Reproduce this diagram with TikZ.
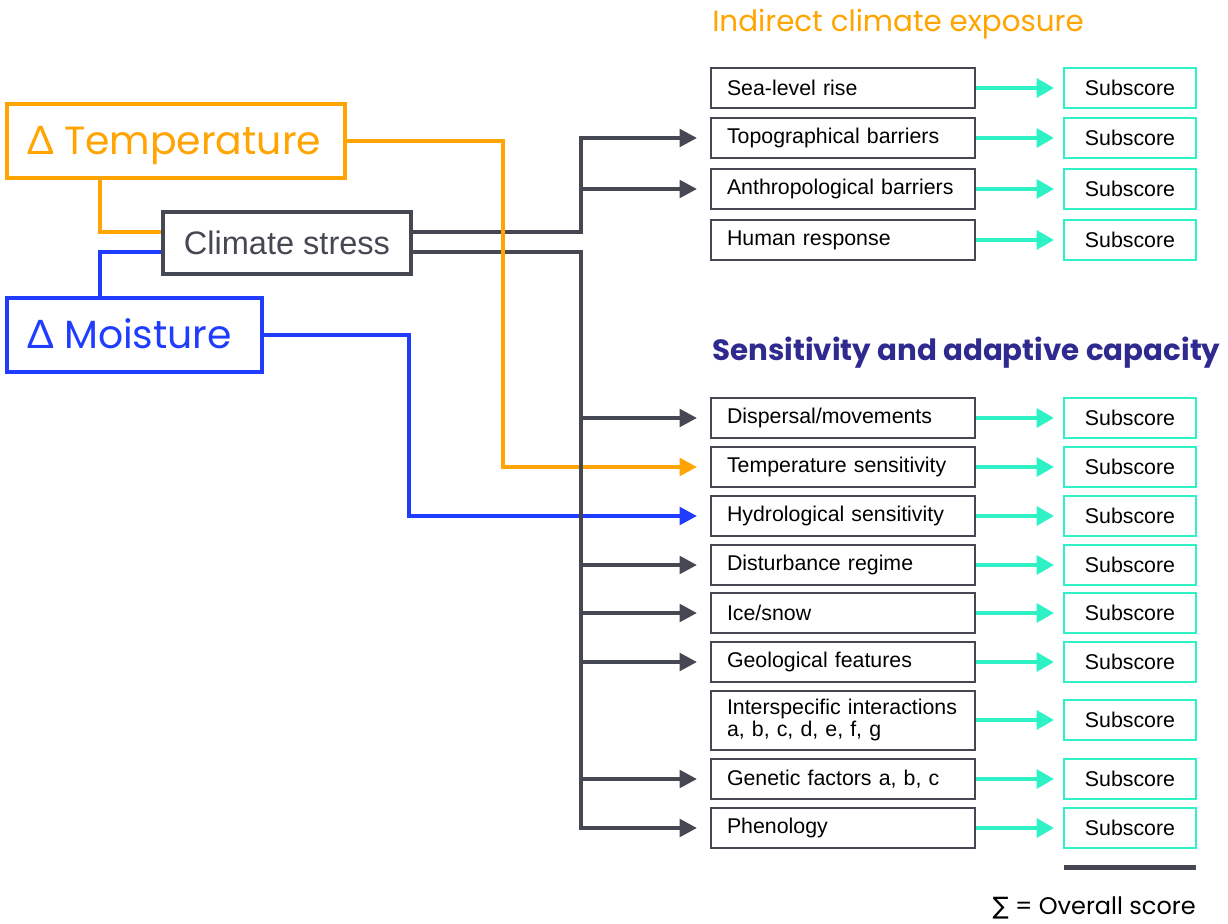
\documentclass[tikz,border=0pt]{standalone}
\usepackage{fontspec}
\setmainfont{Liberation Sans}
\newfontfamily\pop{Poppins}
\newfontfamily\dlt{Lato}
\newfontfamily\dvs{DejaVu Sans}
\usetikzlibrary{arrows.meta,calc}
\definecolor{corange}{HTML}{FFA400}
\definecolor{cblue}{HTML}{1F3CFF}
\definecolor{dgray}{HTML}{454852}
\definecolor{cteal}{HTML}{2EF2C6}
\definecolor{navy}{HTML}{2E2A8F}
\newcommand{\boxfont}{\fontsize{16}{16}\selectfont}
\tikzset{
  lbox/.style={draw=dgray, line width=1.5pt, rectangle, minimum height=30pt, text width=174pt,
    inner xsep=12pt, inner ysep=0pt, align=left, font=\boxfont, text=black},
  sbox/.style={draw=cteal, line width=1.5pt, rectangle, minimum width=99pt, minimum height=30pt,
    inner sep=0pt, font=\boxfont, text=black},
  bigbox/.style={rectangle, line width=3pt, inner sep=0pt, minimum height=55.5pt,
    text height=20.6pt, text depth=0pt,
    font={\pop\fontsize{29.5}{32}\selectfont}},
  gline/.style={draw=dgray, line width=3pt},
  oline/.style={draw=corange, line width=3pt},
  bline/.style={draw=cblue, line width=3pt},
  arr/.style={-{Triangle[length=13pt,width=13pt]}, shorten >=9.75pt},
  tarr/.style={draw=cteal, line width=3pt, -{Triangle[length=13pt,width=14pt]}, shorten >=6.75pt},
  heading/.style={anchor=west, inner sep=0pt, font={\pop\fontsize{22}{24}\selectfont}}
}
\begin{document}
\begin{tikzpicture}[x=0.75pt,y=-0.75pt]
\useasboundingbox (0,0) rectangle (1228,924);

% headings
\node[heading, text=corange] (h1) at (712,24) {Indirect climate exposure};
\node[heading, text=navy, font={\pop\bfseries\fontsize{22}{24}\selectfont}] (h2) at (712,353) {Sensitivity and adaptive capacity};

% left big boxes
\node[bigbox, draw=corange, text=corange, minimum width=253.5pt] (temp) at (176,141) {\makebox[223.5pt][l]{{\dlt Δ} Temperature}};
\node[bigbox, draw=cblue, text=cblue, minimum width=191.25pt] (moist) at (134.5,335) {\makebox[161.25pt][l]{{\dlt Δ} Moisture}};
\node[draw=dgray, line width=3pt, rectangle, minimum width=186pt, minimum height=46.5pt, inner sep=0pt,
  text=dgray, font=\fontsize{24.4}{26}\selectfont] (cs) at (287,243) {Climate stress};

% factor boxes
\node[lbox] (sea)  at (843,88)  {Sea-level rise};
\node[lbox] (topo) at (843,138) {Topographical barriers};
\node[lbox] (anth) at (843,189) {Anthropological barriers};
\node[lbox] (hum)  at (843,240) {Human response};
\node[lbox] (disp) at (843,418) {Dispersal/movements};
\node[lbox] (ts)   at (843,467) {Temperature sensitivity};
\node[lbox] (hs)   at (843,516) {Hydrological sensitivity};
\node[lbox] (dist) at (843,565) {Disturbance regime};
\node[lbox] (ice)  at (843,613) {Ice/snow};
\node[lbox] (geo)  at (843,662) {Geological features};
\node[lbox, minimum height=44.25pt, font={\fontsize{16}{14}\selectfont}] (inter) at (843,720) {Interspecific interactions\\a, b, c, d, e, f, g};
\node[lbox] (gen)  at (843,779) {Genetic factors a, b, c};
\node[lbox] (phen) at (843,828) {Phenology};

% subscore boxes
\foreach \n/\y in {s1/88, s2/138, s3/189, s4/240, s5/418, s6/467, s7/516, s8/565, s9/613, s10/662, s11/720, s12/779, s13/828}
  \node[sbox] (\n) at (1130,\y) {Subscore};

% teal arrows
\foreach \a/\b in {sea/s1, topo/s2, anth/s3, hum/s4, disp/s5, ts/s6, hs/s7, dist/s8, ice/s9, geo/s10, inter/s11, gen/s12, phen/s13}
  \draw[tarr] (\a.east) -- (\b.west);

% helper x positions
\coordinate (tx) at (100,0);
\coordinate (ox) at (503,0);
\coordinate (bx) at (409,0);
\coordinate (gx) at (581,0);

% gray connectors from climate stress
\draw[gline, arr] ([yshift=8.25pt]cs.east) -| (gx |- topo.west) -- (topo.west);
\draw[gline, arr] (gx |- anth.west) -- (anth.west);
\draw[gline, arr] ([yshift=-6.75pt]cs.east) -| (gx |- phen.west) -- (phen.west);

% temperature / moisture into climate stress
\draw[oline] (temp.south -| tx) |- ([yshift=8.25pt]cs.west);
\draw[bline] ([yshift=-6.75pt]cs.west) -| (moist.north -| tx);

% direct links
\draw[oline, arr] (temp.east) -| (ox |- ts.west) -- (ts.west);
\draw[bline, arr] (moist.east) -| (bx |- hs.west) -- (hs.west);

% gray trunk over the crossings and its branches
\draw[gline] (gx |- disp.west) -- (gx |- gen.west);
\foreach \t in {disp, dist, ice, geo, gen}
  \draw[gline, arr] (gx |- \t.west) -- (\t.west);

% total
\draw[dgray, line width=3.75pt] (1064,867) -- (1196,867);
\node[anchor=east, inner sep=0pt, font={\pop\fontsize{18}{20}\selectfont}, text=black] (tot) at (1196,908) {{\dvs ∑} = Overall score};
\end{tikzpicture}
\end{document}
